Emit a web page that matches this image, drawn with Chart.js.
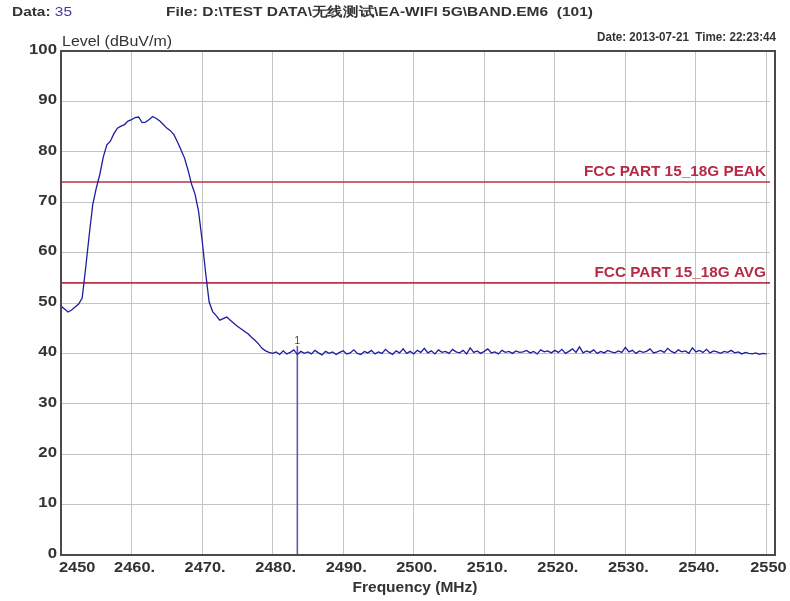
<!DOCTYPE html>
<html><head><meta charset="utf-8">
<script src="https://cdn.jsdelivr.net/npm/chart.js@4.4.1/dist/chart.umd.min.js"></script>
<style>html,body{margin:0;padding:0;background:#fff}#wrap{width:790px;height:601px;position:relative}</style>
</head><body><div id="wrap"><canvas id="c" width="790" height="601"></canvas></div>
<script>
// Sweep definition (spectrum analyzer trace, 0.5 MHz per point)
const freqStart = 2450;
const freqStep = 0.5;
// Measured level (dBuV/m) for each sweep point, 2450.0 .. 2550.0 MHz
const levels = [
  49.4,48.8,48.2,48.6,49.2,49.8,51.0,57.0,63.5,69.5,
  72.8,75.5,79.0,81.4,82.1,83.6,84.7,85.1,85.4,86.1,
  86.4,86.8,86.9,85.8,85.9,86.4,87.0,86.6,86.1,85.4,
  84.7,84.2,83.4,82.0,80.4,78.8,76.4,73.6,71.6,68.2,
  62.5,56.0,50.2,48.3,47.5,46.6,46.9,47.2,46.6,46.0,
  45.4,44.9,44.4,43.9,43.2,42.6,41.9,41.0,40.5,40.2,
  40.0,40.3,39.8,40.5,39.9,40.2,40.7,39.8,40.4,40.0,
  40.3,39.9,40.6,40.1,39.7,40.4,40.0,40.3,39.8,40.2,
  40.5,39.9,40.1,40.7,40.0,39.8,40.4,40.1,40.6,39.9,
  40.3,40.0,40.8,40.2,39.8,40.5,40.1,40.9,40.0,40.4,
  39.9,40.6,40.2,41.0,40.1,40.5,39.9,40.7,40.2,40.4,
  40.0,40.8,40.3,40.1,40.6,39.9,41.1,40.2,40.5,40.0,
  40.4,40.9,40.1,40.3,39.9,40.6,40.2,40.4,40.0,40.5,
  40.2,40.3,40.6,40.1,40.4,39.9,40.7,40.3,40.5,40.1,
  40.6,40.2,40.8,40.0,40.4,40.9,40.2,41.3,40.1,40.5,
  40.2,40.7,40.0,40.4,40.1,40.6,40.3,40.1,40.5,40.2,
  41.2,40.3,40.6,40.0,40.5,40.2,40.4,40.9,40.1,40.3,
  40.6,40.2,41.0,40.4,40.1,40.7,40.3,40.5,40.0,41.1,
  40.3,40.6,40.2,40.8,40.1,40.5,40.3,40.0,40.4,40.2,
  40.6,40.1,40.3,39.9,40.2,40.0,39.9,40.1,39.8,40.0,
  39.9
];
const xMin = 2450, xMax = 2550.5;
const xTickValues = [2450,2460,2470,2480,2490,2500,2510,2520,2530,2540,2550];
const xTickLabels = ['2450','2460.','2470.','2480.','2490.','2500.','2510.','2520.','2530.','2540.','2550'];
const yTickValues = [0,10,20,30,40,50,60,70,80,90,100];
const limitNames = ['FCC PART 15_18G PEAK','FCC PART 15_18G AVG'];
const limitLevels = [74, 54];
const markerFreq = 2483.5;
const markerLevel = 41.5;
const markerLabel = '1';
const headerData = '35';
const headerFile = 'File: D:\\TEST DATA\\无线测试\\EA-WIFI 5G\\BAND.EM6  (101)';
const headerDate = 'Date: 2013-07-21  Time: 22:23:44';
const yTitle = 'Level (dBuV/m)';
const xTitle = 'Frequency (MHz)';

const FONT = 'Arial, "Liberation Sans", sans-serif';
const traceData = levels.map((v, i) => ({x: freqStart + i * freqStep, y: v}));
const datasets = [];
limitLevels.forEach((L, i) => datasets.push({
  label: limitNames[i], data: [{x: xMin, y: L}, {x: xMax, y: L}],
  borderColor: '#b8344a', borderWidth: 1.6, pointRadius: 0, tension: 0, order: 3
}));
datasets.push({
  label: 'marker', data: [{x: markerFreq, y: 0}, {x: markerFreq, y: markerLevel}],
  borderColor: '#5c5cb4', borderWidth: 1.6, pointRadius: 0, tension: 0, order: 2
});
datasets.push({
  label: 'trace', data: traceData,
  borderColor: '#1e1e9e', borderWidth: 1.3, pointRadius: 0, tension: 0, order: 1
});

// draw text horizontally stretched by factor sx, anchored at x with given alignment
function txt(ctx, s, x, y, align, sx) {
  const w = ctx.measureText(s).width * sx;
  let left = x;
  if (align === 'right') left = x - w; else if (align === 'center') left = x - w / 2;
  ctx.save();
  ctx.textAlign = 'left'; ctx.textBaseline = 'middle';
  ctx.translate(left, y); ctx.scale(sx, 1);
  ctx.fillText(s, 0, 0);
  ctx.restore();
  return w;
}
function fitScale(ctx, s, target) { return target / ctx.measureText(s).width; }

const decor = {
  id: 'decor',
  afterDraw(chart) {
    const ctx = chart.ctx, a = chart.chartArea;
    const xs = chart.scales.x, ys = chart.scales.y;
    ctx.save();
    // frame
    ctx.strokeStyle = '#4a4a4a'; ctx.lineWidth = 2;
    ctx.strokeRect(a.left, a.top, a.right + 5 - a.left, a.bottom - a.top);
    // header
    ctx.font = 'bold 13px ' + FONT; ctx.fillStyle = '#333';
    let sx = fitScale(ctx, 'Data: 35', 60);
    const w = txt(ctx, 'Data: ', 12, 12, 'left', sx);
    ctx.fillStyle = '#3b3ba8'; ctx.font = '13px ' + FONT;
    txt(ctx, headerData, 12 + w, 12, 'left', sx);
    ctx.fillStyle = '#333'; ctx.font = 'bold 13px ' + FONT;
    txt(ctx, headerFile, 166, 12, 'left', fitScale(ctx, headerFile, 427));
    ctx.font = 'bold 13px ' + FONT;
    txt(ctx, headerDate, 776, 37, 'right', fitScale(ctx, headerDate, 179));
    ctx.font = '14px ' + FONT;
    txt(ctx, yTitle, 62, 42, 'left', fitScale(ctx, yTitle, 110));
    // y tick labels
    ctx.font = 'bold 14px ' + FONT; ctx.fillStyle = '#333';
    sx = fitScale(ctx, '100', 28);
    yTickValues.forEach(v => txt(ctx, String(v), 57, ys.getPixelForValue(v) - 1, 'right', sx));
    // x tick labels
    sx = fitScale(ctx, '2460.', 41);
    xTickValues.forEach((v, i) => {
      const px = xs.getPixelForValue(v);
      if (i === 0) txt(ctx, xTickLabels[i], px - 2, 568, 'left', sx);
      else if (i === xTickValues.length - 1) txt(ctx, xTickLabels[i], px + 2, 568, 'center', sx);
      else txt(ctx, xTickLabels[i], px + 3, 568, 'center', sx);
    });
    ctx.font = 'bold 14px ' + FONT;
    txt(ctx, xTitle, 415, 588, 'center', fitScale(ctx, xTitle, 125));
    // limit labels
    ctx.fillStyle = '#b52a44'; ctx.font = 'bold 14px ' + FONT;
    sx = fitScale(ctx, limitNames[0], 182);
    limitLevels.forEach((L, i) => {
      txt(ctx, limitNames[i], 766, ys.getPixelForValue(L) - 10, 'right', sx);
    });
    // marker label
    ctx.fillStyle = '#444'; ctx.font = '10px ' + FONT;
    txt(ctx, markerLabel, xs.getPixelForValue(markerFreq), ys.getPixelForValue(markerLevel) - 5, 'center', 1);
    ctx.restore();
  }
};

new Chart(document.getElementById('c'), {
  type: 'line',
  data: {datasets},
  options: {
    responsive: false, animation: false, devicePixelRatio: 1,
    layout: {padding: {left: 0, top: 51, right: 20, bottom: 0}},
    plugins: {legend: {display: false}, tooltip: {enabled: false}, title: {display: false}},
    scales: {
      x: {
        type: 'linear', min: xMin, max: xMax,
        afterBuildTicks: s => { s.ticks = xTickValues.map(v => ({value: v})); },
        afterFit: s => { s.height = 46; },
        ticks: {display: false},
        grid: {color: '#c4c4c4', lineWidth: 1, drawTicks: false},
        border: {display: false}
      },
      y: {
        type: 'linear', min: 0, max: 100,
        afterBuildTicks: s => { s.ticks = yTickValues.map(v => ({value: v})); },
        afterFit: s => { s.width = 61; },
        ticks: {display: false},
        grid: {color: '#c4c4c4', lineWidth: 1, drawTicks: false},
        border: {display: false}
      }
    }
  },
  plugins: [decor]
});
</script></body></html>
